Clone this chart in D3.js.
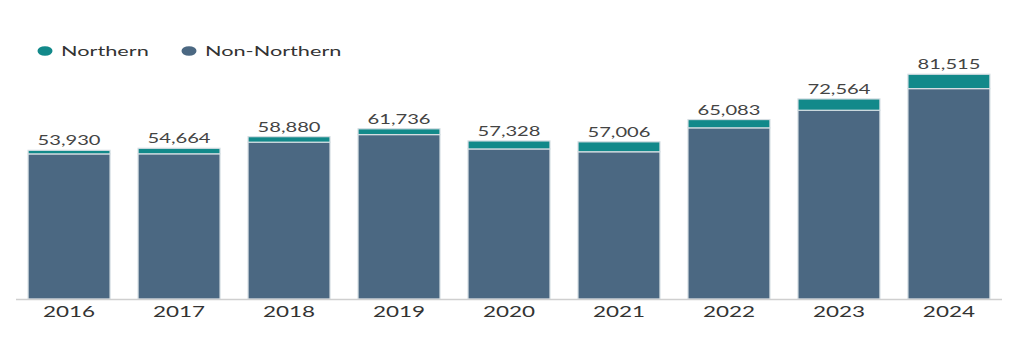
<!DOCTYPE html>
<html><head><meta charset="utf-8">
<script src="https://cdn.jsdelivr.net/npm/d3@7"></script>
<style>html,body{margin:0;padding:0;background:#fff;}svg{display:block;}</style>
</head><body>
<svg id="chart" width="1027" height="350"></svg>
<script>
const years = ["2016","2017","2018","2019","2020","2021","2022","2023","2024"];
const northern = [1300, 2000, 2000, 2100, 2900, 3600, 3000, 4100, 5200];
const nonNorthern = [52630, 52664, 56880, 59636, 54428, 53406, 62083, 68464, 76315];
const totals = [53930, 54664, 58880, 61736, 57328, 57006, 65083, 72564, 81515];
const seriesNames = ["Northern", "Non-Northern"];
const colors = {"Northern": "#12898a", "Non-Northern": "#4b6882"};

const SX = 1.55; // horizontal stretch of the text in the reference
const svg = d3.select("#chart");
const x = d3.scaleBand().domain(years).range([16, 1002]).paddingInner(0.255).paddingOuter(0.11);
const y = d3.scaleLinear().domain([0, 100000]).range([299, 23.3]);

const rows = years.map((yr, i) => ({year: yr, "Non-Northern": nonNorthern[i], "Northern": northern[i], total: totals[i]}));
const stack = d3.stack().keys(["Non-Northern", "Northern"])(rows);

svg.append("g").selectAll("g").data(stack).join("g")
  .attr("fill", d => colors[d.key])
  .selectAll("rect").data(d => d).join("rect")
  .attr("x", d => x(d.data.year))
  .attr("width", x.bandwidth())
  .attr("y", d => y(d[1]))
  .attr("height", d => y(d[0]) - y(d[1]))
  .attr("stroke", "#d4dde2")
  .attr("stroke-width", 1.2);

// axis
const axis = svg.append("g").attr("transform", "translate(0,299.5)")
  .call(d3.axisBottom(x).tickSize(0).tickPadding(0).tickSizeOuter(0));
axis.select(".domain").attr("stroke", "#cfcfcf").attr("stroke-width", 1.5)
  .attr("d", "M16,0H1002");
axis.selectAll(".tick text").remove();
axis.selectAll(".tick").append("g")
  .attr("transform", "translate(0,17.5) scale(" + SX + ",1)")
  .append("text")
  .attr("text-anchor", "middle")
  .attr("font-family", "Lato, sans-serif")
  .attr("font-size", 14.5)
  .attr("fill", "#333")
  .text(d => d);

// value labels
svg.append("g").selectAll("g").data(rows).join("g")
  .attr("transform", d => "translate(" + (x(d.year) + x.bandwidth() / 2) + "," + (y(d.total) - 5) + ") scale(" + SX + ",1)")
  .append("text")
  .attr("text-anchor", "middle")
  .attr("font-family", "Lato, sans-serif")
  .attr("font-size", 13)
  .attr("fill", "#444")
  .text(d => d3.format(",")(d.total));

// legend
const legendX = [45, 189];
const lg = svg.append("g").selectAll("g").data(seriesNames).join("g")
  .attr("transform", (d, i) => "translate(" + legendX[i] + ",51)");
lg.append("ellipse").attr("rx", 7.5).attr("ry", 4.8).attr("fill", d => colors[d]);
lg.append("g").attr("transform", "translate(16,5) scale(" + SX + ",1)")
  .append("text")
  .attr("font-family", "Lato, sans-serif")
  .attr("font-size", 14)
  .attr("fill", "#333")
  .text(d => d);
</script>
</body></html>
